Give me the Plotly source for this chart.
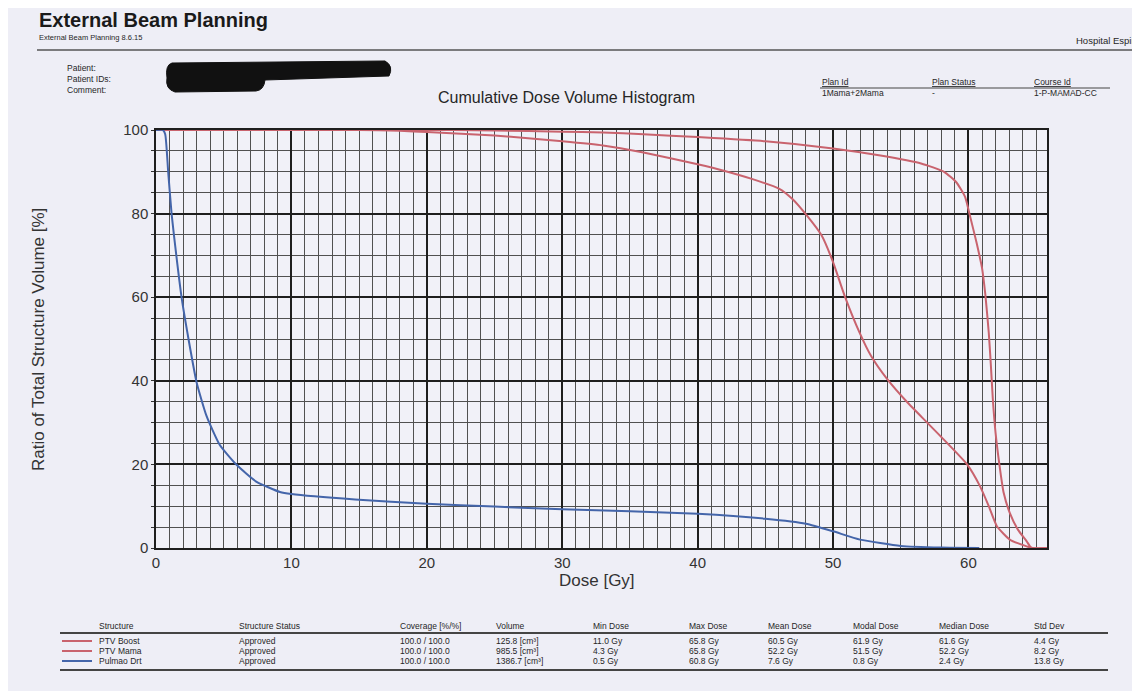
import plotly.graph_objects as go

# ---------------- data ----------------
dose_boost = [0, 11, 22, 25, 30, 33, 36, 40, 45, 50, 53.5, 56.5, 58.2, 59.1, 59.75, 60.1, 60.6,
              61.0, 61.25, 61.5, 61.65, 61.8, 62.0, 62.3, 62.6, 63.05, 63.65, 64.3, 64.65, 65.8]
vol_boost = [100, 100, 100, 99.9, 99.6, 99.4, 99.0, 98.3, 97.3, 95.6, 93.9, 92.0, 90.0, 87.5, 84.0,
             79.6, 73.0, 67.0, 60.5, 51.5, 44.0, 35.6, 27.6, 19.6, 13.2, 8.4, 4.4, 1.6, 0, 0]

dose_mama = [0, 4.3, 15, 18, 20, 25, 30, 33, 36, 40, 42, 44, 46, 47, 48, 49.15, 50, 50.85, 51.95,
             52.8, 54.0, 55.5, 56.95, 58.4, 59.9, 60.85, 61.5, 62.1, 63.05, 64.3, 64.75, 65.8]
vol_mama = [100, 100, 100, 99.8, 99.5, 98.7, 97.3, 96.3, 94.6, 91.8, 90.2, 88.3, 86.0, 83.5, 79.8,
            74.8, 68.4, 60.4, 51.6, 46.0, 40.4, 34.8, 30.0, 25.2, 20.0, 14.8, 10.0, 5.2, 2.0, 0.4, 0, 0]

dose_lung = [0, 0.5, 0.68, 0.9, 1.15, 1.5, 1.9, 2.4, 3.0, 3.73, 4.7, 5.95, 7.4, 9.15, 10, 14.7, 20,
             25, 30, 35, 40, 45, 48, 50, 52, 55, 58, 60.8]
vol_lung = [100, 100, 99, 90, 80, 70, 59.7, 50, 39.6, 31.6, 24.7, 19.9, 15.9, 13.4, 12.9, 11.6, 10.6,
            9.9, 9.3, 8.8, 8.2, 7.0, 5.8, 4.0, 2.0, 0.5, 0.1, 0]

structures = ["PTV Boost", "PTV Mama", "Pulmao Drt"]
struct_status = ["Approved", "Approved", "Approved"]
coverage = ["100.0 / 100.0", "100.0 / 100.0", "100.0 / 100.0"]
volumes = ["125.8 [cm³]", "985.5 [cm³]", "1386.7 [cm³]"]
min_dose = ["11.0 Gy", "4.3 Gy", "0.5 Gy"]
max_dose = ["65.8 Gy", "65.8 Gy", "60.8 Gy"]
mean_dose = ["60.5 Gy", "52.2 Gy", "7.6 Gy"]
modal_dose = ["61.9 Gy", "51.5 Gy", "0.8 Gy"]
median_dose = ["61.6 Gy", "52.2 Gy", "2.4 Gy"]
std_dev = ["4.4 Gy", "8.2 Gy", "13.8 Gy"]
table_headers = ["Structure", "Structure Status", "Coverage [%/%]", "Volume", "Min Dose",
                 "Max Dose", "Mean Dose", "Modal Dose", "Median Dose", "Std Dev"]

plan_headers = ["Plan Id", "Plan Status", "Course Id"]
plan_values = ["1Mama+2Mama", "-", "1-P-MAMAD-CC"]

x_ticks = [0, 10, 20, 30, 40, 50, 60]
y_ticks = [0, 20, 40, 60, 80, 100]

# ---------------- layout helpers ----------------
# the page body adds an 8px margin, so the figure is drawn 8px smaller and
# all reference-pixel positions are measured from the page corner
OFF = 8
W, H = 1140 - OFF, 691 - OFF
PX0, PX1, PY0, PY1 = 156, 1047, 130, 548      # plot area in reference pixels
PW, PH = PX1 - PX0, PY1 - PY0
L, T = PX0 - OFF, PY0 - OFF
R, B = W - (PX1 - OFF), H - (PY1 - OFF)


def px(x):
    return (x - PX0) / PW


def py(y):
    return (PY1 - y) / PH


FONT = "Liberation Sans, Arial, sans-serif"
RED = "#C9636E"
BLUE = "#4465AA"
TXT = "#262626"
BG = "#EEEEF6"

fig = go.Figure()
fig.add_trace(go.Scatter(x=dose_boost, y=vol_boost, mode="lines", name=structures[0],
                         line=dict(color=RED, width=2, shape="spline", smoothing=0.5)))
fig.add_trace(go.Scatter(x=dose_mama, y=vol_mama, mode="lines", name=structures[1],
                         line=dict(color=RED, width=2, shape="spline", smoothing=0.5)))
fig.add_trace(go.Scatter(x=dose_lung, y=vol_lung, mode="lines", name=structures[2],
                         line=dict(color=BLUE, width=2, shape="spline", smoothing=0.5)))

ann = []
shapes = []


def text(x, y, s, size=9, anchor="left", bold=False, color=TXT, angle=0):
    ann.append(dict(x=px(x), y=py(y), xref="paper", yref="paper", text=("<b>%s</b>" % s) if bold else s,
                    showarrow=False, xanchor=anchor, yanchor="middle", textangle=angle,
                    font=dict(family=FONT, size=size, color=color)))


def hline(x0, x1, y, color="#444", width=1.2):
    shapes.append(dict(type="line", xref="paper", yref="paper", x0=px(x0), x1=px(x1),
                       y0=py(y), y1=py(y), line=dict(color=color, width=width)))


# header
text(37, 20, "External Beam Planning", size=20, bold=True, color="#1a1a1a")
text(37, 38, "External Beam Planning 8.6.15", size=7.5)
hline(37, 1140, 50, color="#555", width=1.5)
text(1137, 41, "Hospital Espir", size=9.5, anchor="right")
text(65, 68, "Patient:", size=8.5)
text(65, 79, "Patient IDs:", size=8.5)
text(65, 90, "Comment:", size=8.5)
text(566, 97, "Cumulative Dose Volume Histogram", size=16, anchor="center")

for xp, h, v in zip([820, 930, 1032], plan_headers, plan_values):
    text(xp, 82, "<u>%s</u>" % h, size=8.5)
    text(xp, 93, v, size=8.5)
hline(820, 1110, 88, color="#444", width=1.2)


# redaction blob (decoration)
def pt(x, y):
    return "%f,%f" % (px(x), py(y))


path = ("M " + pt(172, 63) + " L " + pt(385, 61) + " Q " + pt(394, 66) + " " + pt(389, 76) +
        " L " + pt(265, 80) + " Q " + pt(264, 90) + " " + pt(256, 91) + " L " + pt(175, 92) +
        " Q " + pt(165, 89) + " " + pt(167, 78) + " Q " + pt(165, 65) + " " + pt(172, 63) + " Z")
shapes.append(dict(type="path", xref="paper", yref="paper", path=path,
                   fillcolor="#111", line=dict(color="#111", width=1)))

# axis titles
text(38, 340, "Ratio of Total Structure Volume [%]", size=17, anchor="center", angle=-90, color="#333")
text(597, 580, "Dose [Gy]", size=17, anchor="center", color="#333")

# table
col_x = [97, 237, 398, 494, 591, 687, 766, 851, 937, 1032]
for cx, h in zip(col_x, table_headers):
    text(cx, 626, h, size=8.5)
hline(60, 1108, 633, color="#444", width=1.8)
hline(60, 1108, 670, color="#444", width=1.8)
row_y = [641, 651, 661]
sw_col = [RED, RED, BLUE]
for i in range(3):
    yy = row_y[i]
    shapes.append(dict(type="line", xref="paper", yref="paper", x0=px(62), x1=px(92), y0=py(yy), y1=py(yy),
                       line=dict(color=sw_col[i], width=2)))
    vals = [structures[i], struct_status[i], coverage[i], volumes[i], min_dose[i], max_dose[i],
            mean_dose[i], modal_dose[i], median_dose[i], std_dev[i]]
    for cx, v in zip(col_x, vals):
        text(cx, yy, v, size=8.5)

fig.update_layout(
    width=W, height=H,
    margin=dict(l=L, r=R, t=T, b=B, autoexpand=False),
    paper_bgcolor=BG, plot_bgcolor="#F1F1F8",
    showlegend=False,
    font=dict(family=FONT, color="#333"),
    annotations=ann, shapes=shapes,
)
fig.update_xaxes(range=[0, 65.8], tickvals=x_ticks, ticktext=[str(v) for v in x_ticks],
                 showgrid=True, gridcolor="#1e1e1e", gridwidth=1.5,
                 minor=dict(dtick=1, tick0=0, showgrid=True, gridcolor="#505050", gridwidth=1.1),
                 showline=True, mirror=True, linecolor="#1e1e1e", linewidth=1.5,
                 ticks="",
                 tickfont=dict(size=15, color="#333", family=FONT), zeroline=False)
fig.update_yaxes(range=[0, 100], tickvals=y_ticks, ticktext=[str(v) for v in y_ticks],
                 showgrid=True, gridcolor="#1e1e1e", gridwidth=1.5,
                 minor=dict(dtick=5, tick0=0, showgrid=True, gridcolor="#505050", gridwidth=1.1,
                            ticks="outside", ticklen=3, tickcolor="#333"),
                 showline=True, mirror=True, linecolor="#1e1e1e", linewidth=1.5,
                 ticks="outside", ticklen=3, tickcolor="#333",
                 tickfont=dict(size=15, color="#333", family=FONT), zeroline=False)

fig.write_html("out.html")
